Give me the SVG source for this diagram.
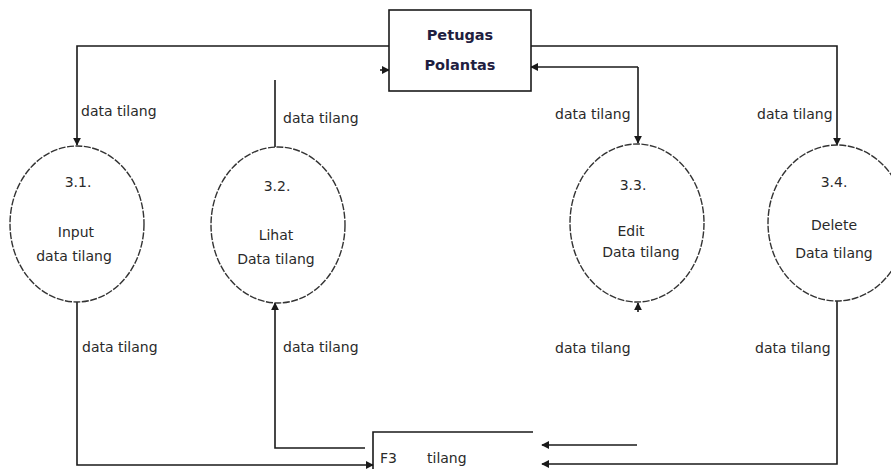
<svg xmlns="http://www.w3.org/2000/svg" width="891" height="469" viewBox="0 0 891 469">
<style>
.ln{fill:none;stroke:#1a1a1a;stroke-width:1.6}
.proc{fill:#fff;stroke:#333;stroke-width:1.4;stroke-dasharray:7 1.5}
.box{fill:#fff;stroke:#1a1a1a;stroke-width:1.6}
.t{font-family:"DejaVu Sans",sans-serif;font-size:14px;fill:#2a2a2a}
.c{text-anchor:middle}
.b{font-weight:bold;fill:#1f2040;font-size:14.5px}
</style>
<defs>
<marker id="ah" viewBox="0 0 10 10" refX="9" refY="5" markerWidth="8" markerHeight="8" markerUnits="userSpaceOnUse" orient="auto">
<path d="M0,0 L10,5 L0,10 z" fill="#1a1a1a"/>
</marker>
</defs>
<rect width="891" height="469" fill="#fff"/>
<g id="connectors">
<path class="ln" d="M390,46 H77 V145" marker-end="url(#ah)"/>
<path class="ln" d="M275,80 V147"/>
<path class="ln" d="M380,70 H389" marker-end="url(#ah)"/>
<path class="ln" d="M531,46 H837 V145" marker-end="url(#ah)"/>
<path class="ln" d="M638,67 H531" marker-end="url(#ah)"/>
<path class="ln" d="M638,67 V143" marker-end="url(#ah)"/>
<path class="ln" d="M638,312 V303" marker-end="url(#ah)"/>
<path class="ln" d="M77,302 V465 H373" marker-end="url(#ah)"/>
<path class="ln" d="M365,448 H275 V303" marker-end="url(#ah)"/>
<path class="ln" d="M637,445 H542" marker-end="url(#ah)"/>
<path class="ln" d="M837,300 V464 H542" marker-end="url(#ah)"/>
<text class="t" x="81" y="116">data tilang</text>
<text class="t" x="283" y="123">data tilang</text>
<text class="t" x="555" y="119">data tilang</text>
<text class="t" x="757" y="119">data tilang</text>
<text class="t" x="82" y="352">data tilang</text>
<text class="t" x="283" y="352">data tilang</text>
<text class="t" x="555" y="353">data tilang</text>
<text class="t" x="755" y="353">data tilang</text>
</g>
<g id="petugas">
<rect class="box" x="389" y="10" width="142" height="81"/>
<text class="t c b" x="460" y="40">Petugas</text>
<text class="t c b" x="460" y="70">Polantas</text>
</g>
<g id="p31">
<ellipse class="proc" cx="77" cy="224" rx="67" ry="78"/>
<text class="t c" x="78" y="187">3.1.</text>
<text class="t c" x="76" y="237">Input</text>
<text class="t c" x="74" y="261">data tilang</text>
</g>
<g id="p32">
<ellipse class="proc" cx="278" cy="225" rx="67" ry="78"/>
<text class="t c" x="277" y="191">3.2.</text>
<text class="t c" x="276" y="240">Lihat</text>
<text class="t c" x="276" y="264">Data tilang</text>
</g>
<g id="p33">
<ellipse class="proc" cx="637" cy="223" rx="67" ry="79"/>
<text class="t c" x="633" y="190">3.3.</text>
<text class="t c" x="631" y="236">Edit</text>
<text class="t c" x="641" y="257">Data tilang</text>
</g>
<g id="p34">
<ellipse class="proc" cx="837" cy="223" rx="69" ry="78"/>
<text class="t c" x="834" y="187">3.4.</text>
<text class="t c" x="834" y="230">Delete</text>
<text class="t c" x="834" y="258">Data tilang</text>
</g>
<g id="f3">
<path class="ln" d="M533,432 H373 V469"/>
<text class="t" x="380" y="463">F3</text>
<text class="t" x="427" y="463">tilang</text>
</g>
</svg>
